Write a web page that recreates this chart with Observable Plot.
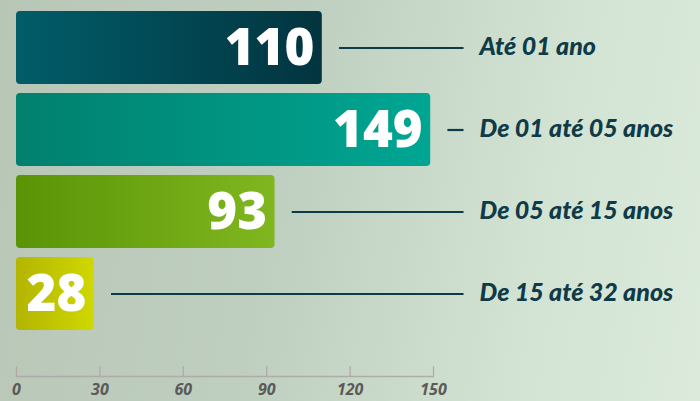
<!DOCTYPE html>
<html>
<head>
<meta charset="utf-8">
<script src="https://cdn.jsdelivr.net/npm/d3@7"></script>
<script src="https://cdn.jsdelivr.net/npm/@observablehq/plot@0.6"></script>
<style>
  html, body { margin: 0; padding: 0; }
  body {
    width: 700px; height: 401px; overflow: hidden;
    background: linear-gradient(100deg, #b8c6b6 0%, #bfcfbf 40%, #d2e3d3 75%, #dbeadb 100%);
  }
  #chart svg { display: block; background: transparent; }
</style>
</head>
<body>
<div id="chart"></div>
<script>
const categories = ["Até 01 ano", "De 01 até 05 anos", "De 05 até 15 anos", "De 15 até 32 anos"];
const values = [110, 149, 93, 28];
const xTicks = [0, 30, 60, 90, 120, 150];
const gradStart = ["#015d69", "#01806e", "#5a9406", "#b3b500"];
const gradEnd = ["#02343f", "#00a693", "#80b720", "#cfd800"];

const data = categories.map((c, i) => ({category: c, value: values[i]}));
const gradIds = categories.map((c, i) => `url(#barGrad${i})`);

const plot = Plot.plot({
  width: 700,
  height: 401,
  marginLeft: 16,
  marginRight: 267,
  marginTop: 0,
  marginBottom: 25,
  style: {background: "transparent", overflow: "visible"},
  x: {domain: [0, 150], axis: null, label: null},
  y: {domain: categories, range: [10, 330], paddingInner: 0.11, paddingOuter: 0, axis: null, label: null},
  color: {domain: categories, range: gradIds},
  marks: [
    Plot.frame({anchor: "bottom", stroke: "#b3a9aa", strokeWidth: 1.3}),
    Plot.tickX(xTicks, {x: d => d, stroke: "#b3a9aa", strokeWidth: 1.3, insetTop: 366}),
    Plot.axisX(xTicks, {
      label: null,
      tickSize: 0, tickPadding: 7, fontSize: 16, fill: "#5a5a5a",
      fontStyle: "italic", fontWeight: 700, fontFamily: "'Open Sans', sans-serif",
      tickFormat: d => String(d)
    }),
    Plot.barX(data, {y: "category", x: "value", fill: "category", rx: 4}),
    Plot.link(data, {
      y1: "category", y2: "category",
      x1: d => d.value + 6, x2: 160.8,
      stroke: "#0c3b4a", strokeWidth: 2.2
    }),
    Plot.text(data, {
      y: "category", x: "value", text: d => String(d.value),
      textAnchor: "end", dx: -8, dy: 1, fill: "white",
      fontSize: 51, fontWeight: 800, fontFamily: "'Open Sans', sans-serif",
      letterSpacing: -1.5
    }),
    Plot.text(data, {
      y: "category", text: "category", frameAnchor: "right",
      textAnchor: "start", dx: 46, dy: -1, fill: "#0f3a48",
      fontSize: 25, fontWeight: 900, fontStyle: "italic", fontFamily: "Lato, sans-serif",
      letterSpacing: 2.8
    })
  ]
});

const svg = d3.select(plot);
const defs = svg.insert("defs", ":first-child");
categories.forEach((c, i) => {
  const g = defs.append("linearGradient").attr("id", `barGrad${i}`)
    .attr("x1", "0").attr("x2", "1").attr("y1", "0").attr("y2", "0");
  g.append("stop").attr("offset", "0%").attr("stop-color", gradStart[i]);
  g.append("stop").attr("offset", "100%").attr("stop-color", gradEnd[i]);
});

document.getElementById("chart").appendChild(plot);
</script>
</body>
</html>
